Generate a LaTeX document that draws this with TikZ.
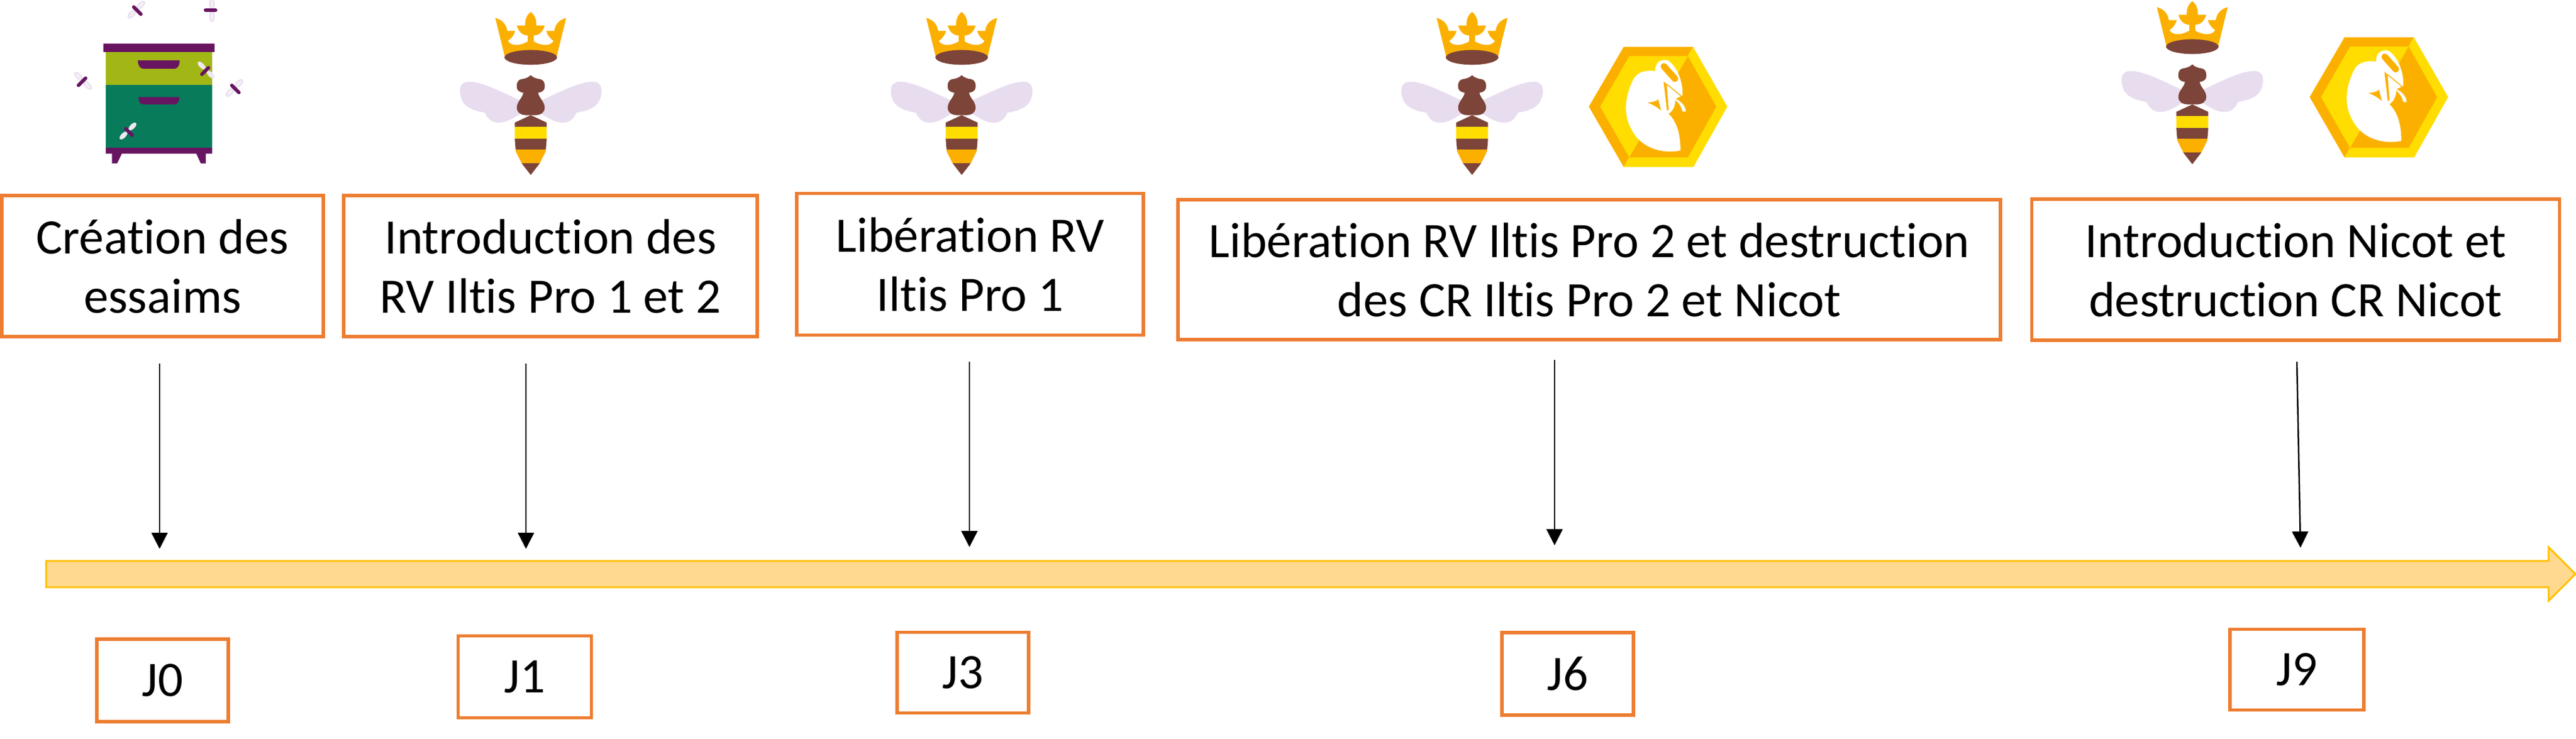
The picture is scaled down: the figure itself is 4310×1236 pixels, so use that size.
\documentclass[tikz,border=0pt]{standalone}
\usepackage{fontspec}
\setmainfont[RawFeature={-liga;-clig;-calt;-dlig}]{Carlito}
\usetikzlibrary{arrows.meta}
\definecolor{boxor}{HTML}{ED7D31}
\definecolor{tlfill}{HTML}{FFD98F}
\definecolor{tlline}{HTML}{FFC000}
\definecolor{bbrown}{HTML}{7D4439}
\definecolor{byel}{HTML}{FFDD00}
\definecolor{bor}{HTML}{FBB000}
\definecolor{bwing}{HTML}{E8DDEF}
\definecolor{hpur}{HTML}{671461}
\definecolor{hlight}{HTML}{A2B716}
\definecolor{hdark}{HTML}{087B5B}
\tikzset{
  stepbox/.style={draw=boxor,line width=5.5pt,fill=white,inner sep=0pt,align=center,text=black,
    font=\fontsize{83}{99}\selectfont},
  daybox/.style={draw=boxor,line width=5.5pt,fill=white,inner sep=0pt,align=center,text=black,
    font=\fontsize{83}{99}\selectfont},
  conn/.style={draw=black,line width=2.5pt,-{Triangle[width=27pt,length=27pt]}},
  queen/.pic={
    \fill[bor] (-130,285) -- (-178,90) .. controls (-140,100) and (-122,125) .. (-118,155)
      -- (-78,155) .. controls (-85,180) and (-100,195) .. (-115,205)
      .. controls (-100,232) and (-55,232) .. (-15,208) -- (-15,178)
      .. controls (-45,178) and (-62,155) .. (-70,128) -- (-28,128)
      .. controls (-30,100) and (-20,75) .. (0,60)
      .. controls (20,75) and (30,100) .. (28,128) -- (70,128)
      .. controls (62,155) and (45,178) .. (15,178) -- (15,208)
      .. controls (55,232) and (100,232) .. (115,205)
      .. controls (100,195) and (85,180) .. (78,155) -- (118,155)
      .. controls (122,125) and (140,100) .. (178,90) -- (130,285) -- cycle;
    \fill[bbrown] (0,288) ellipse [x radius=132,y radius=37];
    \fill[bwing] (-50,505) .. controls (-130,470) and (-240,410) .. (-310,410)
      .. controls (-350,410) and (-365,440) .. (-350,490)
      .. controls (-340,530) and (-300,555) .. (-230,565)
      .. controls (-215,600) and (-190,620) .. (-150,615)
      .. controls (-110,610) and (-85,590) .. (-50,570) -- cycle;
    \fill[bwing] (50,505) .. controls (130,470) and (240,410) .. (310,410)
      .. controls (350,410) and (365,440) .. (350,490)
      .. controls (340,530) and (300,555) .. (230,565)
      .. controls (215,600) and (190,620) .. (150,615)
      .. controls (110,610) and (85,590) .. (50,570) -- cycle;
    \fill[bbrown] (0,377) .. controls (-12,390) and (-30,395) .. (-50,398)
      .. controls (-75,405) and (-75,445) .. (-62,455)
      .. controls (-55,462) and (-45,465) .. (-37,465)
      .. controls (-40,490) and (-70,510) .. (-70,540)
      .. controls (-70,565) and (-50,578) .. (-20,578) -- (20,578)
      .. controls (50,578) and (70,565) .. (70,540)
      .. controls (70,510) and (40,490) .. (37,465)
      .. controls (45,465) and (55,462) .. (62,455)
      .. controls (75,445) and (75,405) .. (50,398)
      .. controls (30,395) and (12,390) .. (0,377) -- cycle;
    \begin{scope}
      \clip (0,578) -- (-80,615) -- (-80,700) -- (-75,760) -- (-45,820) -- (0,878)
        -- (45,820) -- (75,760) -- (80,700) -- (80,615) -- cycle;
      \fill[bbrown] (-90,570) rectangle (90,640);
      \fill[byel] (-90,635) rectangle (90,695);
      \fill[bbrown] (-90,695) rectangle (90,752);
      \fill[bor] (-90,750) rectangle (90,818);
      \fill[bbrown] (-90,818) rectangle (90,880);
    \end{scope}
  },
  hexa/.pic={
    \fill[bor] (55,385) -- (230,85) -- (578,85) -- (230,688) -- cycle;
    \fill[byel] (578,85) -- (750,385) -- (580,688) -- (230,688) -- cycle;
    \fill[byel] (112,385) -- (258,132) -- (552,132) -- (258,640) -- cycle;
    \fill[bor] (552,132) -- (695,385) -- (552,640) -- (258,640) -- cycle;
    \fill[white] (388,207) .. controls (385,165) and (420,140) .. (455,155)
      .. controls (490,180) and (530,250) .. (525,330)
      -- (490,345) .. controls (510,355) and (540,375) .. (542,410) -- (525,410)
      .. controls (520,385) and (505,365) .. (490,352)
      .. controls (488,385) and (475,410) .. (455,420)
      .. controls (500,465) and (515,530) .. (515,605)
      .. controls (420,625) and (320,590) .. (275,510)
      .. controls (225,430) and (235,340) .. (275,255)
      .. controls (295,210) and (340,200) .. (388,207) -- cycle;
    \draw[bor,line width=11pt,line cap=round] (432,183) -- (487,245);
    \fill[bor] (430,258) -- (446,272) -- (456,400) -- (447,405) -- cycle;
    \fill[bor] (350,365) .. controls (375,362) and (395,358) .. (403,348) -- (418,405) .. controls (395,385) and (375,375) .. (350,365) -- cycle;
    \draw[bor,line width=1.5pt] (446,272) -- (522,335);
  },
  sbeeW/.pic={
    \fill[bwing!45,draw=bwing,line width=2pt] (-8,-32) ellipse [x radius=11,y radius=24];
    \fill[bwing!45,draw=bwing,line width=2pt] (-8,32) ellipse [x radius=11,y radius=24];
    \draw[hpur,line width=6pt,line cap=round] (-26,0) -- (24,0);
  },
  sbeeH/.pic={
    \fill[bwing!70] (-8,-32) ellipse [x radius=12,y radius=25];
    \fill[bwing!70] (-8,32) ellipse [x radius=12,y radius=25];
    \draw[hpur,line width=6pt,line cap=round] (-24,0) -- (22,0);
  }
}
\begin{document}
\begin{tikzpicture}[x=1pt,y=-1pt]
\useasboundingbox (0,0) rectangle (4310,1236);
% timeline
\path[fill=tlfill,draw=tlline,line width=3pt,line join=miter]
  (77,938) -- (4264,938) -- (4264,915) -- (4309,960) -- (4264,1005) -- (4264,982) -- (77,982) -- cycle;
% hive
\begin{scope}[shift={(100,0)},scale=1/3]
  \fill[hlight] (230,262) rectangle (765,425);
  \fill[hdark] (230,425) rectangle (765,742);
  \fill[hpur] (218,220) rectangle (776,262);
  \fill[hpur] (230,742) rectangle (765,770);
  \fill[hpur] (262,770) -- (312,770) -- (288,820) -- (262,820) -- cycle;
  \fill[hpur] (685,770) -- (733,770) -- (733,820) -- (708,820) -- cycle;
  \fill[hpur] (392,303) -- (602,303) .. controls (602,330) and (590,345) .. (575,345) -- (420,345) .. controls (405,345) and (392,330) .. (392,303) -- cycle;
  \fill[hpur] (395,487) -- (600,487) .. controls (600,510) and (590,524) .. (575,524) -- (420,524) .. controls (405,524) and (395,510) .. (395,487) -- cycle;
\end{scope}
\pic[rotate=-45,scale=1/3] at (230,18) {sbeeW};
\pic[rotate=180,scale=1/3] at (352,17) {sbeeW};
\pic[rotate=225,scale=1/3] at (137,137) {sbeeW};
\pic[rotate=-45,scale=1/3] at (394,149) {sbeeW};
\pic[rotate=225,scale=1/3] at (343,119) {sbeeH};
\pic[rotate=-45,scale=1/3] at (216,221) {sbeeH};
% queens
\pic[scale=1/3] at (888,0) {queen};
\pic[scale=1/3] at (1609,0) {queen};
\pic[scale=1/3] at (2463,0) {queen};
\pic[scale=1/3] at (3668,-18) {queen};
% cells
\pic[scale=1/3] at (2640,50) {hexa};
\pic[scale=1/3] at (3846,34) {hexa};
% step boxes
\node[stepbox,minimum width=538pt,minimum height=236pt] (b0) at (272,445) {Création des\\essaims};
\node[stepbox,minimum width=692pt,minimum height=236pt] (b1) at (921,445) {Introduction des\\RV Iltis Pro 1 et 2};
\node[stepbox,minimum width=580pt,minimum height=237pt] (b2) at (1623,442) {Libération RV\\Iltis Pro 1};
\node[stepbox,minimum width=1376pt,minimum height=234pt] (b3) at (2659,451) {Libération RV Iltis Pro 2 et destruction\\des CR Iltis Pro 2 et Nicot};
\node[stepbox,minimum width=883pt,minimum height=236pt] (b4) at (3841,451) {Introduction Nicot et\\destruction CR Nicot};
% day boxes
\node[daybox,minimum width=220pt,minimum height=138pt] (d0) at (272,1138) {J0};
\node[daybox,minimum width=223pt,minimum height=137pt] (d1) at (878,1132) {J1};
\node[daybox,minimum width=220pt,minimum height=135pt] (d2) at (1611,1125) {J3};
\node[daybox,minimum width=220pt,minimum height=138pt] (d3) at (2623,1127) {J6};
\node[daybox,minimum width=224pt,minimum height=135pt] (d4) at (3843,1120) {J9};
% connectors
\coordinate (s0) at (267,608); \coordinate (e0) at (267,918);
\coordinate (s1) at (880,608); \coordinate (e1) at (880,918);
\coordinate (s2) at (1622,605); \coordinate (e2) at (1622,915);
\coordinate (s3) at (2601,602); \coordinate (e3) at (2601,912);
\coordinate (s4) at (3843,605); \coordinate (e4) at (3849,916);
\draw[conn] (s0) -- (e0);
\draw[conn] (s1) -- (e1);
\draw[conn] (s2) -- (e2);
\draw[conn] (s3) -- (e3);
\draw[conn] (s4) -- (e4);
\end{tikzpicture}
\end{document}
